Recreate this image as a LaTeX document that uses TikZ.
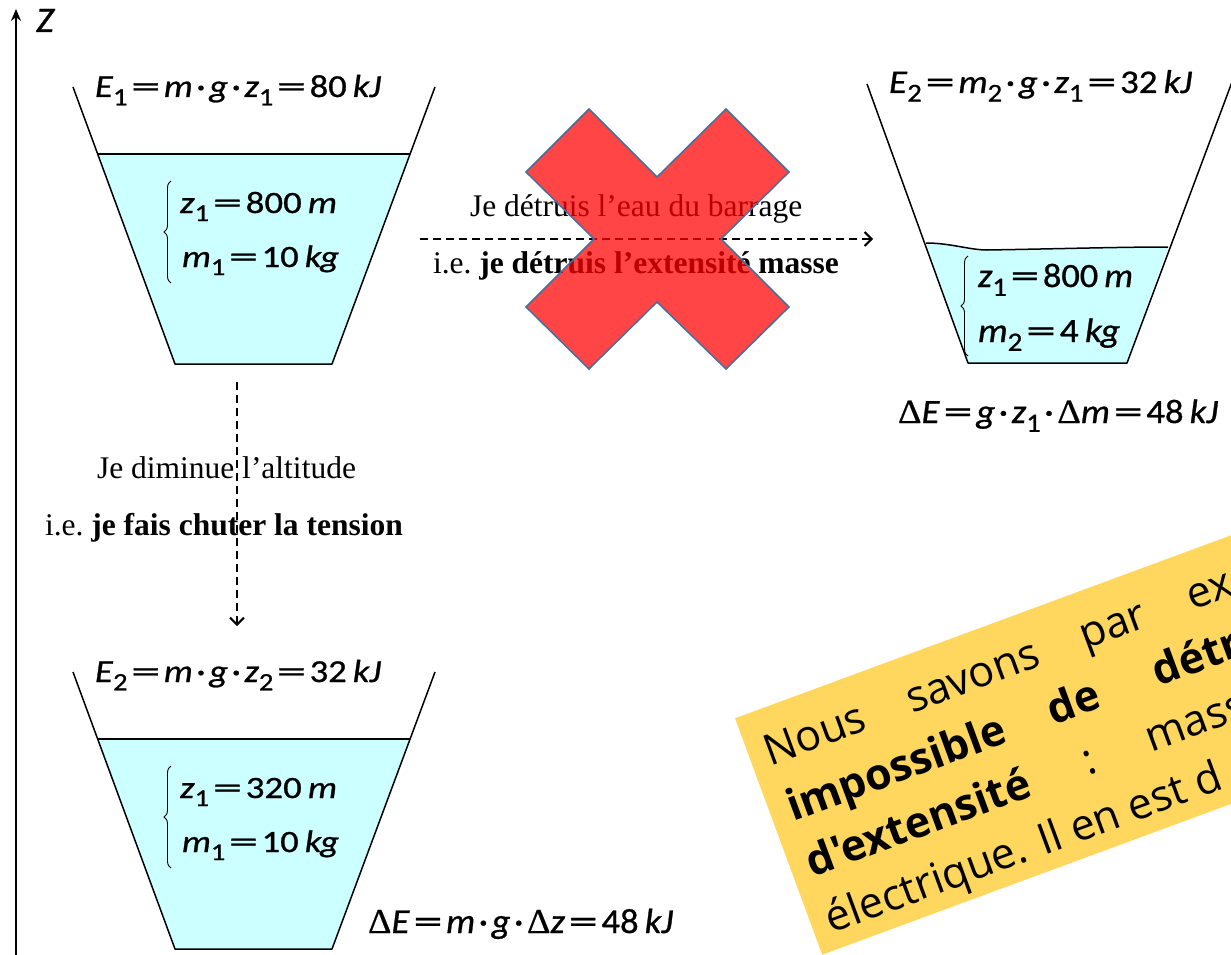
\documentclass[tikz,border=0pt]{standalone}
\usepackage{fontspec}
\setmainfont{Liberation Serif}
\newfontfamily\calfont{Carlito}[FakeBold=0.8]
\newfontfamily\osfont{Open Sans}
\newfontfamily\symfont{Liberation Serif}[FakeBold=0.5]
\usetikzlibrary{arrows.meta,decorations.pathreplacing}
\definecolor{water}{RGB}{204,255,255}
\definecolor{gold}{RGB}{255,214,94}
\definecolor{xedge}{RGB}{65,113,156}
\newcommand\vi[1]{\textit{#1}}
\newcommand\sbx[1]{\raisebox{-0.26em}{\scalebox{0.78}{#1}}}
\newcommand\eq{\hspace{0.1em}\scalebox{1.6}[1]{=}\hspace{0.1em}}
\newcommand\cd{\hspace{0.1em}·\hspace{0.1em}}
\newcommand\Dl{{\symfont Δ}}
\newcommand\fml[3]{\resizebox{#2pt}{\height}{\calfont\fontsize{#1}{#1}\selectfont #3}}
\newcommand\putw[2]{\makebox[0pt][l]{\hspace*{#1pt}#2}}
\tikzset{
  vessel/.style={line width=1.5pt, line join=round},
  liquid/.style={fill=water, draw=none},
  surface/.style={line width=1.5pt},
  dasharrow/.style={line width=2pt, dash pattern=on 8pt off 5pt, -{Straight Barb[length=7pt,width=14pt,line width=2pt]}},
  axisline/.style={line width=2.2pt, -{Stealth[length=12pt,width=10pt]}},
  fm/.style={anchor=base west, inner sep=0pt, outer sep=0pt},
  tx/.style={anchor=base west, inner sep=0pt, outer sep=0pt, font=\fontsize{31.5}{36}\selectfont},
  bracestyle/.style={decorate, decoration={brace, amplitude=7pt}, line width=0.9pt},
  cross/.style={fill=red, fill opacity=0.73, draw=xedge, line width=1.5pt},
  note/.style={anchor=base west, inner sep=0pt, transform shape, font=\osfont\fontsize{43}{58}\selectfont},
}
\begin{document}
\begin{tikzpicture}[x=1pt,y=-1pt]
\useasboundingbox (0,0) rectangle (1231,955);
% axis
\coordinate (ax0) at (16,955);
\coordinate (ax1) at (16,9);
\draw[axisline] (ax0) -- (ax1);
\node[fm] (zlab) at (36,32) {\resizebox{18pt}{\height}{\calfont\fontsize{36}{36}\selectfont\itshape Z}};

% ---------- vessel 1 (top left)
\fill[liquid] (97.7,154) -- (175,364) -- (332,364) -- (410,154) -- cycle;
\draw[surface] (97.7,154) -- (410,154);
\draw[vessel] (73,87) -- (175,364) -- (332,364) -- (435,87);
\node[fm] (e1) at (95,97) {\fml{32}{286}{\vi{E}\sbx{1}\eq\vi{m}\cd\vi{g}\cd\vi{z}\sbx{1}\eq 80\,\vi{kJ}}};
\draw[bracestyle] (171,283) -- (171,181);
\node[fm] (a1) at (180,213) {\fml{31}{157}{\vi{z}\sbx{1}\eq 800\,\vi{m}}};
\node[fm] (b1) at (182,267) {\fml{31}{157}{\vi{m}\sbx{1}\eq 10\,\vi{kg}}};

% ---------- vessel 2 (top right)
\fill[liquid] (926,243) .. controls (950,243) and (970,250) .. (987,250) .. controls (1050,249) and (1120,247) .. (1168,247) -- (1127,363) -- (968,363) -- cycle;
\draw[surface] (926,243) .. controls (950,243) and (970,250) .. (987,250) .. controls (1050,249) and (1120,247) .. (1168,247);
\draw[vessel] (867,84) -- (968,363) -- (1127,363) -- (1232,82);
\node[fm] (e2) at (889,93) {\fml{33}{303}{\vi{E}\sbx{2}\eq\vi{m}\sbx{2}\cd\vi{g}\cd\vi{z}\sbx{1}\eq 32\,\vi{kJ}}};
\draw[bracestyle] (968,356) -- (968,256);
\node[fm] (a2) at (978,287) {\fml{34}{155}{\vi{z}\sbx{1}\eq 800\,\vi{m}}};
\node[fm] (b2) at (978,342) {\fml{34}{142}{\vi{m}\sbx{2}\eq 4\,\vi{kg}}};
\node[fm] (d2) at (898,423) {\fml{34}{320}{\Dl\vi{E}\eq\vi{g}\cd\vi{z}\sbx{1}\cd\Dl\vi{m}\eq 48\,\vi{kJ}}};

% ---------- vessel 3 (bottom left)
\fill[liquid] (97.7,739) -- (175,949) -- (332,949) -- (410,739) -- cycle;
\draw[surface] (97.7,739) -- (410,739);
\draw[vessel] (73,672) -- (175,949) -- (332,949) -- (435,672);
\node[fm] (e3) at (95,682) {\fml{32}{286}{\vi{E}\sbx{2}\eq\vi{m}\cd\vi{g}\cd\vi{z}\sbx{2}\eq 32\,\vi{kJ}}};
\draw[bracestyle] (171,868) -- (171,766);
\node[fm] (a3) at (180,798) {\fml{31}{157}{\vi{z}\sbx{1}\eq 320\,\vi{m}}};
\node[fm] (b3) at (182,852) {\fml{31}{157}{\vi{m}\sbx{1}\eq 10\,\vi{kg}}};
\node[fm] (d3) at (368,933) {\fml{35}{305}{\Dl\vi{E}\eq\vi{m}\cd\vi{g}\cd\Dl\vi{z}\eq 48\,\vi{kJ}}};

% ---------- vertical transition
\coordinate (v0) at (237,382);
\coordinate (v1) at (237,626);
\draw[dasharrow] (v0) -- (v1);
\node[tx] (t1) at (97,478) {Je diminue l’altitude};
\node[tx] (t2) at (45,535) {i.e.\ \textbf{je fais chuter la tension}};

% ---------- horizontal transition
\coordinate (h0) at (420,239);
\coordinate (h1) at (873,239);
\draw[dasharrow] (h0) -- (h1);
\node[tx] (t3) at (470,216) {Je détruis l’eau du barrage};
\node[tx] (t4) at (433,273) {i.e.\ \textbf{je détruis l’extensité masse}};

% ---------- cross
\filldraw[cross] (589,109) -- (657,177) -- (726,109) -- (789,172) -- (721,239) -- (789,307) -- (726,369) -- (657,302) -- (589,369) -- (526,307) -- (594,239) -- (526,172) -- cycle;

% ---------- note
\begin{scope}[shift={(735,718.3)}, rotate=20.25]
\fill[gold] (0,0) rectangle (900,252);
\node[note] (n1) at (16,57) {\putw{0}{Nous}\putw{151}{savons}\putw{336}{par}\putw{450}{ex}};
\node[note] (n2) at (18,117) {\bfseries\putw{0}{impossible}\putw{278}{de}\putw{390}{détr}};
\node[note] (n3) at (17,176) {\putw{0}{\bfseries d'extensité}\putw{294}{:}\putw{361}{mass}};
\node[note] (n4) at (16,235.5) {électrique. Il en est d};
\end{scope}
\end{tikzpicture}
\end{document}
